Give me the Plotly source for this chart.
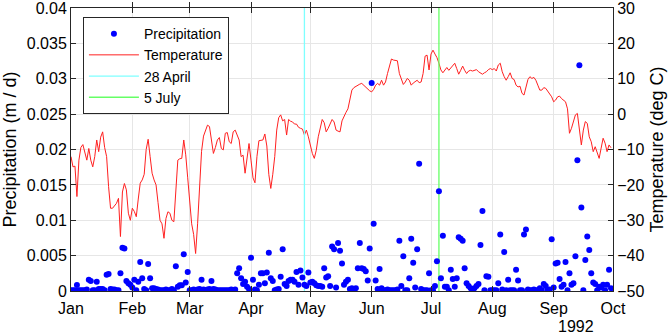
import pandas as pd
import plotly.graph_objects as go

# ---------------- data (daily, 1 Jan 1992 .. 30 Sep 1992) ----------------
precip_jan = [0.0001, 0.0001, 0.0001, 0.00085, 0.0001, 0.0001, 0.0001, 0.0001, 0.0002, 0.0016,
              0.0014, 0.0001, 0.0001, 0.0013, 0.0003, 0.0003, 0.0003, 0.0001, 0.0023, 0.0024,
              0.0003, 0.0002, 0.0002, 0.0001, 0.0001, 0.0025, 0.0061, 0.006, 0.0014, 0.0011, 0.0009]
precip_feb = [0.0005, 0.0016, 0.0001, 0.0013, 0.0041, 0.0018, 0.0003, 0.0001, 0.0038, 0.0018,
              0.0004, 0.0004, 0.0003, 0.0002, 0.0001, 0.0001, 0.0001, 0.0002, 0.0001, 0.0001,
              0.0003, 0.0001, 0.0035, 0.0006, 0.0008, 0.0008, 0.0052, 0.0012, 0.0027]
precip_mar = [0.0001, 0.0001, 0.0002, 0.0001, 0.0002, 0.0003, 0.0016, 0.0002, 0.0001, 0.0002,
              0.0003, 0.0014, 0.0003, 0.0002, 0.0001, 0.0001, 0.0001, 0.0001, 0.0001, 0.0001,
              0.0001, 0.0002, 0.0001, 0.0002, 0.0025, 0.0032, 0.0018, 0.001, 0.0013, 0.0006, 0.0003]
precip_apr = [0.0047, 0.0016, 0.0002, 0.0001, 0.0009, 0.0025, 0.0025, 0.0011, 0.0026, 0.0054,
              0.0018, 0.0014, 0.0001, 0.0002, 0.0003, 0.002, 0.0059, 0.001, 0.0007, 0.0014,
              0.0016, 0.0016, 0.0013, 0.0027, 0.0009, 0.0029, 0.0019, 0.0009, 0.0007, 0.0026]
precip_may = [0.0012, 0.0013, 0.0011, 0.0008, 0.0007, 0.0007, 0.0006, 0.0032, 0.0019, 0.0021,
              0.0007, 0.0063, 0.0059, 0.0005, 0.0068, 0.0057, 0.0039, 0.0009, 0.0013, 0.0016,
              0.0003, 0.0004, 0.0002, 0.0004, 0.0032, 0.0068, 0.0032, 0.0031, 0.0028, 0.0015, 0.006]
precip_jun = [0.0294, 0.0095, 0.0015, 0.0003, 0.0031, 0.0004, 0.0001, 0.0001, 0.0002, 0.0001,
              0.0001, 0.0001, 0.0001, 0.0002, 0.0071, 0.0007, 0.0049, 0.0001, 0.0001, 0.0018,
              0.0074, 0.004, 0.0005, 0.0059, 0.018, 0.0003, 0.0001, 0.0001, 0.0001, 0.0025]
precip_jul = [0.0001, 0.0001, 0.0007, 0.0042, 0.0141, 0.0018, 0.0078, 0.0006, 0.0006, 0.0001,
              0.003, 0.0017, 0.0006, 0.0018, 0.0076, 0.0074, 0.0071, 0.0032, 0.0011, 0.0007,
              0.0004, 0.0001, 0.0004, 0.0007, 0.001, 0.0065, 0.0113, 0.0001, 0.0021, 0.002, 0.0001]
precip_aug = [0.0001, 0.0001, 0.0001, 0.0011, 0.008, 0.0002, 0.0055, 0.0001, 0.0016, 0.0001,
              0.0001, 0.0001, 0.003, 0.0015, 0.0001, 0.0001, 0.008, 0.0087, 0.0002, 0.0001,
              0.0001, 0.0002, 0.0001, 0.0001, 0.0004, 0.0001, 0.001, 0.0007, 0.0001, 0.0002, 0.0073]
precip_sep = [0.0005, 0.0039, 0.004, 0.0017, 0.0006, 0.0009, 0.0041, 0.0001, 0.0025, 0.0009,
              0.0011, 0.0049, 0.0185, 0.0319, 0.0118, 0.0001, 0.0044, 0.0077, 0.0058, 0.0025,
              0.0012, 0.001, 0.0001, 0.0006, 0.0005, 0.0009, 0.0001, 0.0009, 0.003, 0.0004]

temp_jan = [-12, -14.9, -14.7, -23.3, -13, -9.4, -8.6, -11.1, -13, -9.7, -13, -14.9, -12, -7.3,
            -10.6, -6.5, -5.0, -9.4, -12, -20.5, -26.6, -26.6, -25.7, -25.2, -23.8, -34.6, -22,
            -19.6, -21.4, -28, -30]
temp_feb = [-26.6, -27.5, -29, -24, -19.5, -18.6, -17, -10, -7.1, -12, -16.7, -18.6, -20, -25,
            -30, -31, -35.1, -29.5, -27.6, -28, -30, -30.4, -21, -13, -12.6, -12.5, -7.3, -11.5, -18]
temp_mar = [-25.5, -31, -34, -39.4, -31, -19, -10.5, -6.2, -4.4, -3.1, -3.5, -7.3, -11.1, -9.4,
            -7.3, -6.6, -9.7, -10.1, -5.4, -5.2, -7.8, -8.3, -5.0, -4.5, -5.8, -7.3, -12, -11.6,
            -16.7, -13, -8.3]
temp_apr = [-13, -18, -19.4, -12, -7.5, -7.3, -7.3, -5.6, -9.0, -17, -21, -17, -12, -4.5, -1,
            -0.2, -1.9, -1.5, -5.9, -1.5, -2.0, -2.2, -2.8, -2.8, -3.7, -4, -4.2, -5.9, -4.5, -6.4]
temp_may = [-9, -11.1, -12.5, -10.2, -6.4, -3.5, -1.5, -2.4, -5, -4, -2.5, -1.5, -2.2, -4.5,
            -4.8, -5, -1.9, -0.5, 0.5, 1.5, 4, 6.8, 7.5, 7.9, 8.2, 8.5, 8.7, 8.2, 7.5, 7.0, 6.6]
temp_jun = [6.3, 7.0, 8.2, 8.7, 8.2, 9.6, 8.2, 9.1, 11.5, 13.4, 15.6, 15.3, 15.3, 15.1, 11.5,
            9.6, 8.4, 9.1, 10.1, 9.6, 8.2, 8.8, 9.1, 9.6, 8.9, 9.1, 11.5, 16.4, 16.7, 12.5]
temp_jul = [17, 18.1, 17, 16, 14.4, 12.5, 11.7, 12.4, 13.2, 12.4, 13.0, 13.6, 14.4, 12.9, 11.3,
            12.4, 13.6, 12.4, 11.5, 12.2, 12.4, 12.2, 12.4, 12.6, 12.0, 11.7, 11.3, 11.7, 12.0,
            12.6, 12.9]
temp_aug = [12.6, 12.9, 12.2, 13.9, 14.4, 12, 10.6, 9.6, 10.6, 11.7, 10.1, 9.8, 8.2, 7.7, 7.9,
            5.9, 5.4, 7.7, 9.8, 10.6, 10.1, 10.4, 9.6, 8.2, 6.8, 6.8, 7.5, 7.3, 6.6, 5.9, 4.9]
temp_sep = [3.5, 4.0, 4.9, 5.1, 4.4, 4.0, 3.5, 1.5, -5.4, -4, -1.7, -0.2, 0.2, -4.5, -8.7, -4.5,
            -2.1, -2.6, -6.4, -7.8, -10.6, -9.2, -10.6, -12.5, -9.6, -6.8, -8.2, -10.6, -8.7, -9.5]

event_dates = ["1992-04-28", "1992-07-05"]
event_names = ["28 April", "5 July"]
event_colors = ["#7FFFFF", "#66FF66"]

month_ticks = ["1992-01-01", "1992-02-01", "1992-03-01", "1992-04-01", "1992-05-01",
               "1992-06-01", "1992-07-01", "1992-08-01", "1992-09-01", "1992-10-01"]
month_labels = ["Jan", "Feb", "Mar", "Apr", "May", "Jun", "Jul", "Aug", "Sep", "Oct"]
precip_ticks = [0, 0.005, 0.01, 0.015, 0.02, 0.025, 0.03, 0.035, 0.04]
precip_labels = ["0", "0.005", "0.01", "0.015", "0.02", "0.025", "0.03", "0.035", "0.04"]
temp_ticks = [-50, -40, -30, -20, -10, 0, 10, 20, 30]

precip = (precip_jan + precip_feb + precip_mar + precip_apr + precip_may + precip_jun
          + precip_jul + precip_aug + precip_sep)
temp = (temp_jan + temp_feb + temp_mar + temp_apr + temp_may + temp_jun
        + temp_jul + temp_aug + temp_sep)
dates = pd.date_range("1992-01-01", periods=len(temp), freq="D")

FONT = "Liberation Sans, Arial, Helvetica, sans-serif"
AX = "#262626"
GRID = "#E6E6E6"

fig = go.Figure()
fig.add_trace(go.Scatter(x=dates, y=precip, mode="markers", name="Precipitation",
                         yaxis="y2", marker=dict(color="#0000FF", size=6, line=dict(width=0))))
fig.add_trace(go.Scatter(x=dates, y=temp, mode="lines", name="Temperature",
                         yaxis="y", line=dict(color="#FF2020", width=1)))
for d, n, c in zip(event_dates, event_names, event_colors):
    fig.add_trace(go.Scatter(x=[d, d], y=[temp_ticks[0], temp_ticks[-1]], mode="lines",
                             name=n, yaxis="y", line=dict(color=c, width=1.3)))

fig.update_layout(
    width=671, height=336,
    margin=dict(l=71, r=58, t=8, b=45),
    paper_bgcolor="white", plot_bgcolor="white",
    font=dict(family=FONT, size=16, color="#000000"),
    showlegend=True,
    legend=dict(x=0.022, y=0.968, xanchor="left", yanchor="top",
                bgcolor="white", bordercolor=AX, borderwidth=1,
                font=dict(size=14, family=FONT), tracegroupgap=0, itemwidth=50),
    xaxis=dict(type="date", range=["1992-01-01", "1992-10-01"], automargin=False,
               tickvals=month_ticks, ticktext=month_labels,
               ticks="inside", ticklen=5, tickcolor=AX, tickwidth=1,
               showline=True, linecolor=AX, linewidth=1, mirror="allticks",
               showgrid=True, gridcolor=GRID, gridwidth=1, zeroline=False,
               tickfont=dict(size=16), ticklabelstandoff=3),
    yaxis=dict(side="right", range=[-50, 30.02], tickvals=temp_ticks, automargin=False,
               ticks="inside", ticklen=5, tickcolor=AX, ticklabeloverflow="allow",
               showline=True, linecolor=AX, linewidth=1,
               showgrid=True, gridcolor=GRID, zeroline=False,
               tickfont=dict(size=16),
               title=dict(text="Temperature (deg C)", font=dict(size=18), standoff=6)),
    yaxis2=dict(side="left", overlaying="y", range=[0, 0.04001], tickvals=precip_ticks,
                ticktext=precip_labels, automargin=False, ticklabeloverflow="allow",
                ticks="inside", ticklen=5, tickcolor=AX,
                showline=True, linecolor=AX, linewidth=1,
                showgrid=True, gridcolor=GRID, zeroline=False,
                tickfont=dict(size=16),
                title=dict(text="Precipitation (m / d)", font=dict(size=18), standoff=6)),
    annotations=[dict(text="1992", xref="paper", yref="paper", x=0.932, y=-0.125,
                      xanchor="center", yanchor="middle", showarrow=False,
                      font=dict(size=16, family=FONT))],
)

fig.write_html("out.html", config={"displayModeBar": False},
               post_script="document.body.style.margin='0px';")
